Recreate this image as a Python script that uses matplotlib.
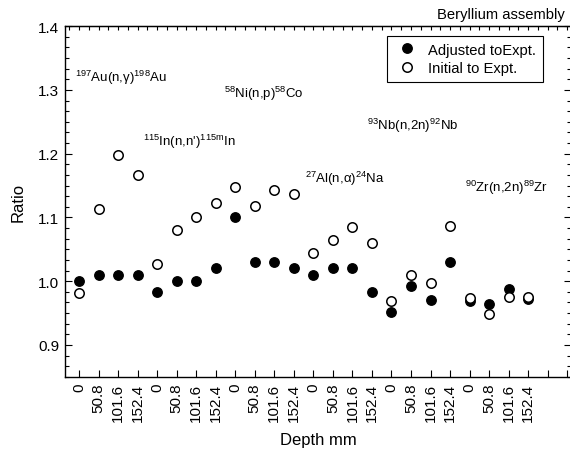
import numpy as np
import matplotlib
matplotlib.use("Agg")
from matplotlib import pyplot as plt
from matplotlib.ticker import MultipleLocator, AutoMinorLocator, FixedLocator

plt.rcParams['font.family'] = ['Liberation Sans', 'DejaVu Sans']
plt.rcParams['mathtext.fontset'] = 'custom'
plt.rcParams['mathtext.rm'] = 'Liberation Sans'
plt.rcParams['mathtext.it'] = 'Liberation Sans:italic'
plt.rcParams['xtick.direction'] = 'in'
plt.rcParams['ytick.direction'] = 'in'

# depths repeat for each reaction
depths = ['0', '50.8', '101.6', '152.4'] * 6
adjusted = [1.000, 1.010, 1.010, 1.010,
            0.983, 1.000, 1.000, 1.020,
            1.101, 1.030, 1.030, 1.020,
            1.010, 1.020, 1.020, 0.983,
            0.952, 0.993, 0.970, 1.030,
            0.969, 0.965, 0.988, 0.972]
initial = [0.982, 1.114, 1.198, 1.166,
           1.027, 1.080, 1.100, 1.123,
           1.148, 1.118, 1.143, 1.137,
           1.044, 1.064, 1.085, 1.060,
           0.969, 1.009, 0.997, 1.087,
           0.974, 0.949, 0.976, 0.975]
reactions = [r'$^{197}$Au(n,γ)$^{198}$Au', r"$^{115}$In(n,n')$^{115\mathrm{m}}$In",
             r'$^{58}$Ni(n,p)$^{58}$Co', r'$^{27}$Al(n,α)$^{24}$Na',
             r'$^{93}$Nb(n,2n)$^{92}$Nb', r'$^{90}$Zr(n,2n)$^{89}$Zr']
# label anchor positions (data coords)
label_x = [-0.2, 3.26, 7.42, 11.57, 14.75, 19.76]
label_y = [1.320, 1.220, 1.295, 1.1625, 1.245, 1.148]

x = np.arange(len(depths))

fig = plt.figure(figsize=(5.7, 4.52), dpi=100)
ax = fig.add_axes([0.114, 0.164, 0.888, 0.776])

ax.plot(x, adjusted, 'o', color='black', markersize=6.8, label='Adjusted toExpt.')
ax.plot(x, initial, 'o', markerfacecolor='white', markeredgecolor='black',
        markeredgewidth=1.1, markersize=6.8, label='Initial to Expt.')

for t, lx, ly in zip(reactions, label_x, label_y):
    ax.text(lx, ly, t, fontsize=9.5, va='center', ha='left')

ax.set_xlim(-0.72, 25.2)
ax.set_ylim(0.85, 1.4)
ax.xaxis.set_major_locator(FixedLocator(np.arange(0, 26)))
ax.set_xticklabels(depths + ['', ''], rotation=90, fontsize=11)
ax.set_yticks(np.arange(0.9, 1.41, 0.1))
ax.set_yticklabels(['0.9', '1.0', '1.1', '1.2', '1.3', '1.4'], fontsize=11)
ax.yaxis.set_minor_locator(AutoMinorLocator(6))
ax.tick_params(axis='both', which='major', direction='in', length=5, width=0.8, pad=4)
ax.tick_params(axis='y', which='minor', direction='in', length=3, width=0.8)
ax.tick_params(axis='y', which='both', right=True)

# top axis: ticks every half step, no labels
sec = ax.secondary_xaxis('top')
sec.xaxis.set_major_locator(MultipleLocator(0.5))
sec.tick_params(direction='in', length=3, width=0.8, labeltop=False)

for s in ax.spines.values():
    s.set_linewidth(1.0)

ax.set_xlabel('Depth mm', fontsize=12, labelpad=8)
ax.set_ylabel('Ratio', fontsize=12, labelpad=9)

leg = ax.legend(loc='upper right', bbox_to_anchor=(0.958, 0.993), fontsize=10.6,
                fancybox=False, edgecolor='black', framealpha=1,
                handletextpad=0.5, borderpad=0.45, labelspacing=0.3, handlelength=1.8)
leg.get_frame().set_linewidth(0.8)

fig.text(0.99, 0.966, 'Beryllium assembly', ha='right', va='center', fontsize=10.6)

fig.savefig('out.png', dpi=100)
